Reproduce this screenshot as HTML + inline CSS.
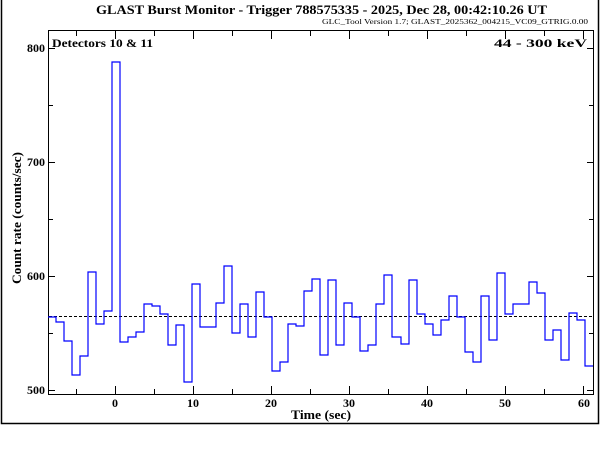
<!DOCTYPE html>
<html><head><meta charset="utf-8"><style>
html,body{margin:0;padding:0;background:#fff;}
svg{display:block;}
text{font-family:"Liberation Serif",serif;fill:#000;}
</style></head><body>
<svg width="600" height="450" viewBox="0 0 600 450" xmlns="http://www.w3.org/2000/svg">
<rect width="600" height="450" fill="#fff"/>
<path d="M1.5,0 V423.5 H598.5 V0" fill="none" stroke="#000" stroke-width="1.5"/>
<text x="96" y="14" font-size="13" font-weight="bold" textLength="451" lengthAdjust="spacingAndGlyphs">GLAST Burst Monitor  -  Trigger 788575335  -  2025, Dec 28, 00:42:10.26 UT</text>
<text x="322" y="24" font-size="7" textLength="266" lengthAdjust="spacingAndGlyphs">GLC_Tool Version 1.7; GLAST_2025362_004215_VC09_GTRIG.0.00</text>
<rect x="48.5" y="30.5" width="545" height="364" fill="none" stroke="#000" stroke-width="1"/>
<g stroke="#000" stroke-width="1">
<path d="M76.5,394V389M115.5,394V386M154.5,394V389M193.5,394V386M232.5,394V389M271.5,394V386M310.5,394V389M349.5,394V386M388.5,394V389M427.5,394V386M466.5,394V389M505.5,394V386M544.5,394V389M583.5,394V386"/>
<path d="M76.5,31V36M115.5,31V39M154.5,31V36M193.5,31V39M232.5,31V36M271.5,31V39M310.5,31V36M349.5,31V39M388.5,31V36M427.5,31V39M466.5,31V36M505.5,31V39M544.5,31V36M583.5,31V39"/>
<path d="M49,390.5H55M49,333.5H53M49,276.5H55M49,219.5H53M49,162.5H55M49,105.5H53M49,48.5H55"/>
<path d="M593,390.5H587M593,333.5H589M593,276.5H587M593,219.5H589M593,162.5H587M593,105.5H589M593,48.5H587"/>
</g>
<g font-size="12" font-weight="bold" text-anchor="end">
<text x="45" y="394">500</text>
<text x="45" y="280">600</text>
<text x="45" y="166">700</text>
<text x="45" y="52">800</text>
</g>
<g font-size="12" font-weight="bold" text-anchor="middle">
<text x="115" y="407">0</text>
<text x="193" y="407">10</text>
<text x="271" y="407">20</text>
<text x="349" y="407">30</text>
<text x="427" y="407">40</text>
<text x="505" y="407">50</text>
<text x="584" y="407">60</text>
</g>
<text x="291" y="419" font-size="13" font-weight="bold" textLength="60" lengthAdjust="spacingAndGlyphs">Time (sec)</text>
<text transform="translate(21,284) rotate(-90)" font-size="13" font-weight="bold" textLength="132" lengthAdjust="spacingAndGlyphs">Count rate (counts/sec)</text>
<text x="52" y="47" font-size="12" font-weight="bold" textLength="101" lengthAdjust="spacingAndGlyphs">Detectors 10 &amp; 11</text>
<text x="494" y="47" font-size="12" font-weight="bold" textLength="93" lengthAdjust="spacingAndGlyphs">44 - 300 keV</text>
<line x1="49" y1="316.5" x2="593" y2="316.5" stroke="#000" stroke-width="1" stroke-dasharray="3,2"/>
<path fill="none" stroke="#0000ff" stroke-width="1.2" d="M48,317 H56 V322 H64 V341 H72 V375 H80 V356 H88 V272 H96 V324 H104 V311 H112 V62 H120 V342 H128 V337 H136 V332 H144 V304 H152 V306 H160 V314 H168 V345 H176 V325 H184 V382 H192 V284 H200 V327 H208 V327 H216 V303 H224 V266 H232 V333 H240 V304 H248 V337 H256 V292 H264 V317 H272 V371 H280 V362 H288 V324 H296 V326 H304 V291 H312 V279 H320 V355 H328 V280 H336 V345 H344 V303 H352 V317 H360 V351 H368 V345 H376 V304 H384 V275 H392 V337 H401 V344 H409 V280 H417 V314 H425 V324 H433 V335 H441 V320 H449 V296 H457 V317 H465 V352 H473 V362 H481 V296 H489 V340 H497 V273 H505 V314 H513 V304 H521 V304 H529 V282 H537 V293 H545 V340 H553 V330 H561 V360 H569 V313 H577 V320 H585 V366 H593"/>
</svg>
</body></html>
